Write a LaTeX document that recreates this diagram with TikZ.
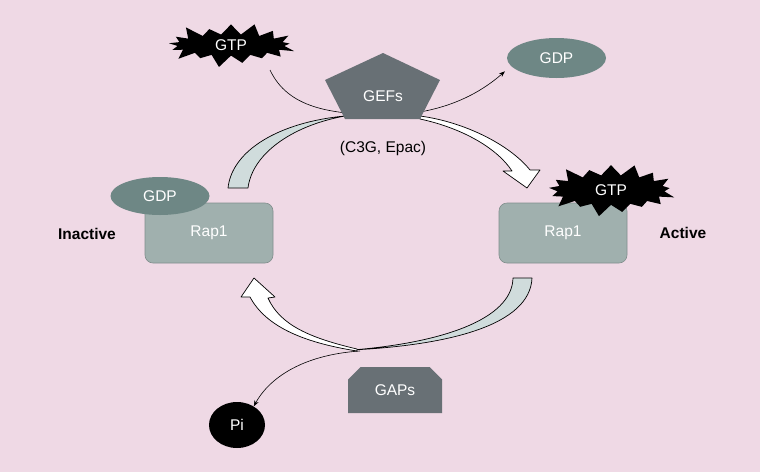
\documentclass[tikz,border=0pt]{standalone}
\usepackage{fontspec}
\setsansfont{Liberation Sans}
\usetikzlibrary{arrows.meta,shapes.symbols,shapes.misc,shapes.geometric}
\definecolor{bgpink}{RGB}{239,217,229}
\definecolor{gefgray}{RGB}{104,112,117}
\definecolor{rapgray}{RGB}{160,176,174}
\definecolor{rapedge}{RGB}{128,142,140}
\definecolor{gdpteal}{RGB}{110,135,133}
\definecolor{bandgray}{RGB}{208,220,220}
\tikzset{
  lbl/.style    ={font=\sffamily\fontsize{15.5}{18}\selectfont,text=white},
  rapbox/.style ={lbl,draw=rapedge,fill=rapgray,rounded corners=8pt,line width=.6pt,
                  minimum width=128pt,minimum height=60pt},
  gdpoval/.style={lbl,ellipse,fill=gdpteal,inner sep=0pt},
  gtpstar/.style={lbl,starburst,fill=black,inner xsep=22pt,inner ysep=2pt,starburst points=17,
                  starburst point height=14pt},
  enzyme/.style ={lbl,fill=gefgray},
  grayband/.style ={draw=black,fill=bandgray,line width=.7pt,line join=round},
  whiteband/.style={draw=black,fill=white,line width=.7pt,line join=round},
  thinarr/.style={-{Stealth[length=6pt,width=4.5pt]},line width=.6pt},
  state/.style  ={font=\sffamily\fontsize{15.5}{18}\selectfont\bfseries},
}

\begin{document}
\begin{tikzpicture}[x=1pt,y=-1pt,font=\sffamily]

  % ---------- background ----------
  \fill[bgpink] (0,0) rectangle (760,472);
  \useasboundingbox (0,0) rectangle (760,472);

  % ---------- GEF step (top) ----------
  \coordinate (gtpout) at (270,70);
  \node[gdpoval,minimum width=99pt,minimum height=40pt] (gdpB) at (556.5,58) {GDP};
  \draw[thinarr,shorten >=8pt] (gtpout) .. controls (288,108) and (330,114) .. (383,115)
        .. controls (440,115) and (478,95) .. (gdpB.190);

  \draw[grayband] (228,188) .. controls (232,150) and (280,122) .. (345,116)
        .. controls (290,126) and (252,155) .. (248,188) -- cycle;
  \draw[whiteband] (420,116) .. controls (465,122) and (510,145) .. (530,170)
        -- (540,170) -- (527,188) -- (503,171) -- (512,171)
        .. controls (497,148) and (462,128) .. (420,119) -- cycle;

  \fill[gefgray] (383,53) -- (440,80) -- (420,119) -- (345,119) -- (325,80) -- cycle;
  \node[lbl] (gefs) at (383,96) {GEFs};
  \node[font=\sffamily\fontsize{15.5}{18}\selectfont] (gefsub) at (383,148) {(C3G, Epac)};

  \node[gtpstar] (gtpA) at (231,45) {GTP};

  % ---------- Rap1, inactive / active ----------
  \node[rapbox] (rapoff) at (209,233) {Rap1};
  \node[gdpoval,minimum width=99pt,minimum height=38pt] (gdpA) at (160,196) {GDP};
  \node[rapbox] (rapon) at (563,233) {Rap1};
  \node[gtpstar,inner ysep=5pt] (gtpB) at (611,190) {GTP};

  \node[state] (inact) at (87,234) {Inactive};
  \node[state] (act) at (683,233) {Active};

  % ---------- GAP step (bottom) ----------
  \coordinate (gapjoin) at (360,351);
  \draw[grayband] (532,278) .. controls (530,325) and (450,345) .. (352,350)
        .. controls (440,343) and (512,320) .. (513,278) -- cycle;
  \draw[whiteband] (357,351) .. controls (300,342) and (265,325) .. (250,297)
        -- (241,297) -- (254,278) -- (275,297) -- (268,298)
        .. controls (280,325) and (310,338) .. (357,349) -- cycle;

  \node[lbl,ellipse,fill=black,minimum width=56pt,minimum height=46pt,inner sep=0pt] (pi) at (237,425) {Pi};
  \draw[thinarr] (gapjoin) .. controls (300,355) and (268,380) .. (pi.48);

  \node[enzyme,chamfered rectangle,chamfered rectangle corners={north west,north east},
        chamfered rectangle xsep=7pt,chamfered rectangle ysep=7pt,inner sep=0pt,
        minimum width=94pt,minimum height=46pt] (gaps) at (395,390) {GAPs};

\end{tikzpicture}
\end{document}
